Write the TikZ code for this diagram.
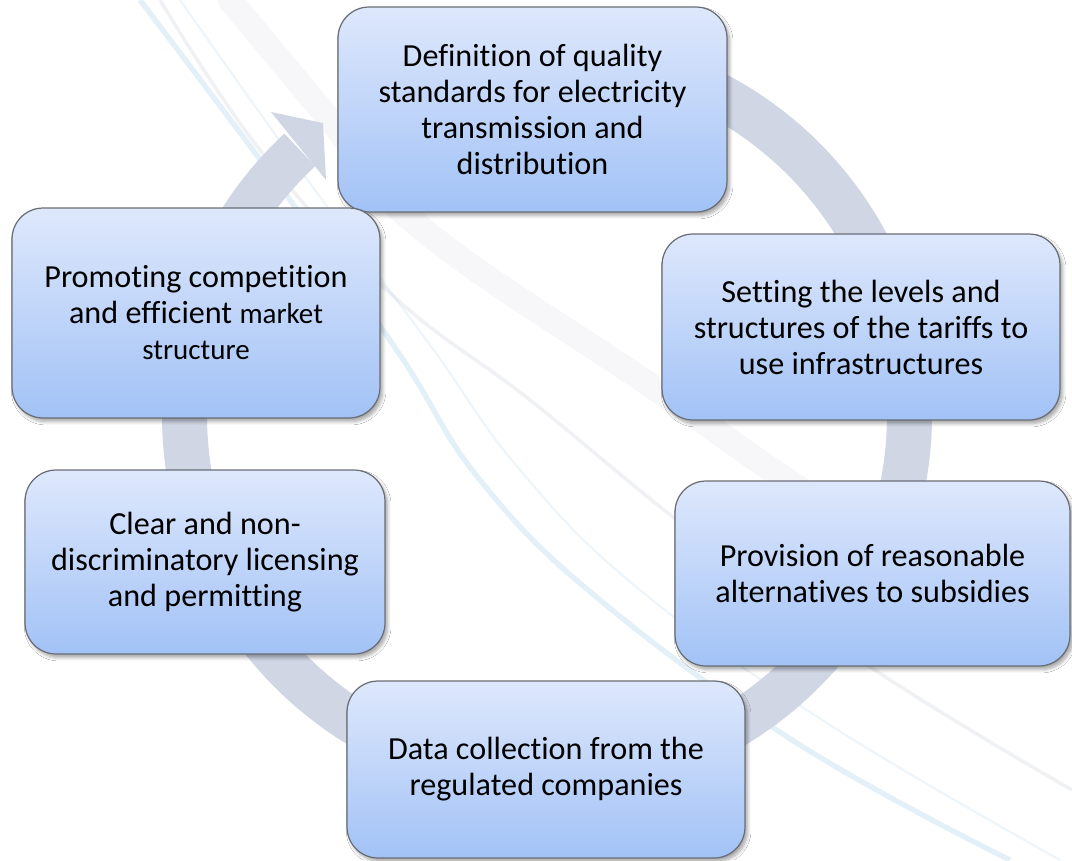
\documentclass[tikz,border=0pt]{standalone}
\usepackage{fontspec}
\setmainfont{Carlito}[Ligatures=NoCommon]
\usetikzlibrary{shadows.blur}
\definecolor{ringc}{RGB}{208,214,228}
\definecolor{boxtop}{RGB}{222,232,252}
\definecolor{boxbot}{RGB}{162,194,246}
\definecolor{boxline}{RGB}{105,110,118}
\definecolor{swa}{RGB}{185,218,236}
\definecolor{swb}{RGB}{222,226,232}
\definecolor{swc}{RGB}{238,239,242}
\tikzset{
  stagebox/.style={rounded corners=0.62cm, draw=boxline, line width=0.7pt,
    top color=boxtop, bottom color=boxbot, align=center, inner sep=0pt,
    font=\fontsize{18.3}{20.5}\selectfont,
    blur shadow={shadow xshift=1.5pt, shadow yshift=-2pt, shadow blur steps=6, shadow opacity=35}},
  ringline/.style={draw=ringc, line width=0.9cm},
}
\begin{document}
\begin{tikzpicture}[x=0.02cm,y=0.02cm]
\useasboundingbox (0,0) rectangle (1072,-860);
\fill[white] (0,0) rectangle (1072,-860);
% background swooshes (very faint)
\draw[swc, line width=14pt, opacity=0.45, line cap=round] plot[smooth, tension=0.7] coordinates {(230,0) (330,-120) (420,-227) (647,-383) (850,-520) (1072,-640)};
\draw[swb, line width=2pt, opacity=0.45] plot[smooth, tension=0.7] coordinates {(160,0) (260,-150) (390,-293) (530,-400) (673,-517) (860,-660) (1072,-790)};
\draw[swa, line width=3pt, opacity=0.4] plot[smooth, tension=0.7] coordinates {(140,0) (290,-200) (400,-355) (480,-480) (600,-600) (800,-745) (1010,-860)};
\draw[swa, line width=1.2pt, opacity=0.25] plot[smooth, tension=0.7] coordinates {(180,0) (315,-190) (430,-345) (520,-470) (640,-590) (830,-725) (1060,-860)};
% circular arrow
\coordinate (c) at (547,-415);
\draw[ringline] (c) ++(133:362.5) arc[start angle=133, end angle=440, radius=362.5];
\coordinate (hl) at (271,-112);
\coordinate (ht) at (323,-123);
\coordinate (hr) at (326,-180);
\fill[ringc] (hl) -- (ht) -- (hr) -- cycle;
% stages
\node[stagebox, minimum width=7.78cm, minimum height=4.1cm] (s1) at (532.5,-109.5)
  {Definition of quality\\standards for electricity\\transmission and\\distribution};
\node[stagebox, minimum width=7.96cm, minimum height=3.72cm] (s2) at (861,-327)
  {Setting the levels and\\structures of the tariffs to\\use infrastructures};
\node[stagebox, minimum width=7.9cm, minimum height=3.7cm] (s3) at (872.5,-573.5)
  {Provision of reasonable\\alternatives to subsidies};
\node[stagebox, minimum width=7.96cm, minimum height=3.54cm] (s4) at (546,-769.5)
  {Data collection from the\\regulated companies};
\node[stagebox, minimum width=7.2cm, minimum height=3.68cm] (s5) at (205,-562)
  {Clear and non-\\discriminatory licensing\\and permitting};
\node[stagebox, minimum width=7.36cm, minimum height=4.2cm] (s6) at (196,-313)
  {Promoting competition\\and efficient {\fontsize{16.5}{20.5}\selectfont market}\\{\fontsize{16.5}{20.5}\selectfont structure}};
\end{tikzpicture}
\end{document}
